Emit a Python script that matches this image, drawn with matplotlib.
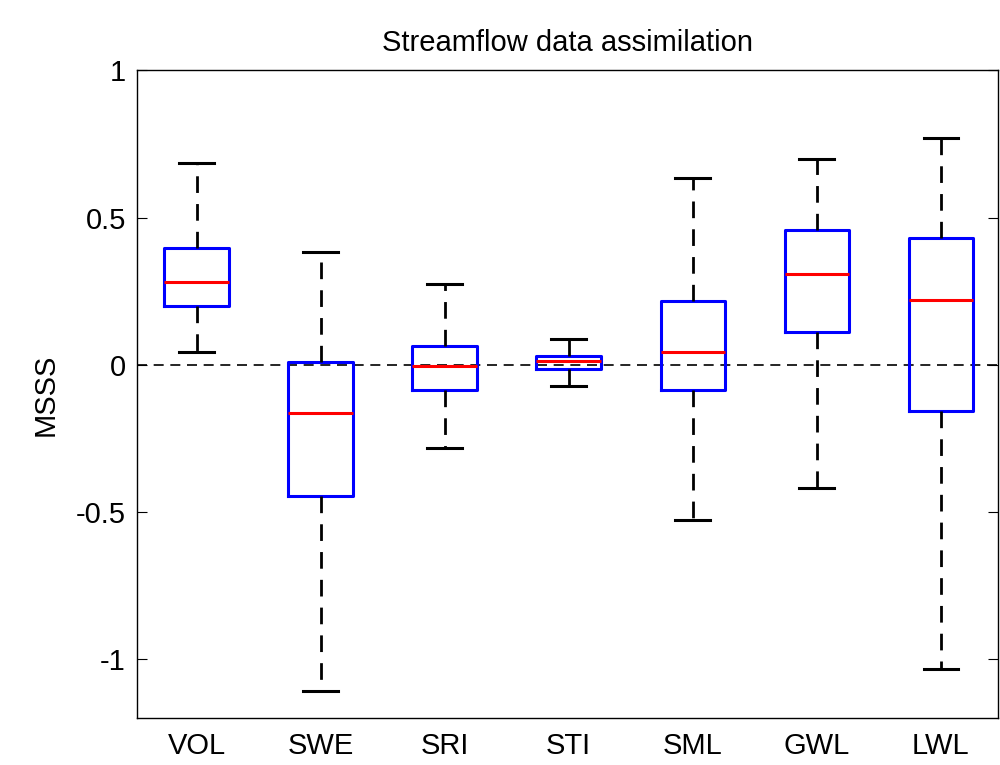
import matplotlib
matplotlib.use("Agg")
import matplotlib.pyplot as plt

labels = ["VOL", "SWE", "SRI", "STI", "SML", "GWL", "LWL"]
whislo = [0.044, -1.108, -0.281, -0.071, -0.525, -0.417, -1.034]
q1 = [0.200, -0.444, -0.085, -0.014, -0.085, 0.112, -0.156]
med = [0.281, -0.163, -0.003, 0.014, 0.044, 0.308, 0.220]
q3 = [0.397, 0.010, 0.064, 0.030, 0.217, 0.458, 0.430]
whishi = [0.685, 0.383, 0.275, 0.088, 0.634, 0.698, 0.769]

plt.rcParams['font.family'] = ['Liberation Sans', 'DejaVu Sans']
fig = plt.figure(figsize=(10, 7.65), dpi=100)
ax = fig.add_axes([0.137, 0.061, 0.861, 0.847])

stats = [dict(label=l, whislo=a, q1=b, med=c, q3=d, whishi=e, fliers=[])
         for l, a, b, c, d, e in zip(labels, whislo, q1, med, q3, whishi)]
ax.axhline(0, color='black', linestyle=(0, (6, 4)), linewidth=1.2, zorder=0)
ax.bxp(stats, widths=0.52,
       boxprops=dict(color='#0000ff', linewidth=2.2),
       medianprops=dict(color='#ff0000', linewidth=2.2),
       whiskerprops=dict(color='black', linestyle=(0, (6, 4)), linewidth=2),
       capprops=dict(color='black', linewidth=2.2),
       capwidths=0.28)

ax.set_xlim(0.52, 7.46)
ax.set_ylim(-1.2, 1.0)
ax.set_yticks([-1, -0.5, 0, 0.5, 1])
ax.set_yticklabels(['-1', '-0.5', '0', '0.5', '1'])
ax.tick_params(axis='y', direction='in', right=True, labelsize=21, length=7, pad=8)
ax.tick_params(axis='x', length=0, labelsize=21, pad=10)
ax.set_ylabel('MSSS', fontsize=21, labelpad=12)
ax.set_title('Streamflow data assimilation', fontsize=21, pad=14)
for s in ax.spines.values():
    s.set_linewidth(1)
fig.savefig('out.png', dpi=100)
